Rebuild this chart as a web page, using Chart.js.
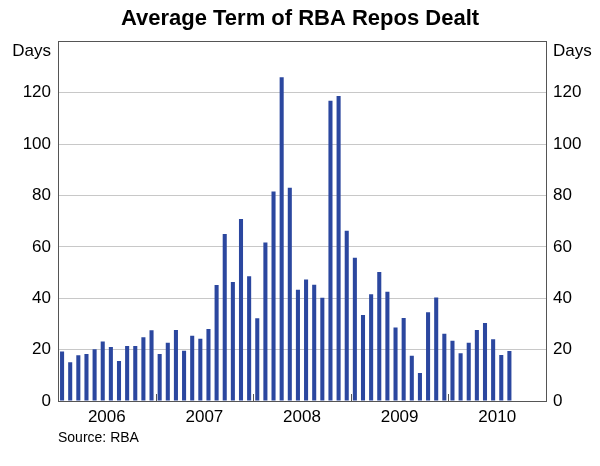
<!DOCTYPE html>
<html><head><meta charset="utf-8">
<script src="https://cdn.jsdelivr.net/npm/chart.js@4/dist/chart.umd.min.js"></script>
<style>html,body{margin:0;padding:0;background:#fff}#wrap{width:600px;height:466px;position:relative}</style>
</head><body><div id="wrap"><canvas id="c" width="600" height="466"></canvas></div>
<script>
const chartTitle = 'Average Term of RBA Repos Dealt';
const unitLabel = 'Days';
const sourceNote = 'Source: RBA';
const years = [2006, 2007, 2008, 2009, 2010];
const monthNames = ['Jan','Feb','Mar','Apr','May','Jun','Jul','Aug','Sep','Oct','Nov','Dec'];
// Average term (days), monthly from Jan 2006 to Aug 2010
const termDays = [
  19.3, 15.1, 17.8, 18.3, 20.1, 23.2, 21.0, 15.6, 21.4, 21.4, 24.8, 27.5,
  18.3, 22.7, 27.6, 19.6, 25.4, 24.2, 28.0, 45.2, 65.0, 46.3, 70.9, 48.6,
  32.2, 61.7, 81.6, 126.0, 83.0, 43.3, 47.3, 45.3, 40.2, 116.9, 118.7, 66.3,
  55.8, 33.5, 41.6, 50.2, 42.5, 28.6, 32.3, 17.6, 10.9, 34.6, 40.3, 26.2,
  23.5, 18.6, 22.7, 27.6, 30.4, 24.0, 17.9, 19.5
];
const yMax = 140;
const yStep = 20;

const months = years.flatMap(y => monthNames.map(m => m + ' ' + y)).slice(0, termDays.length);
const points = months.map((label, i) => ({ x: years[0] + (i + 0.5) / 12, y: termDays[i] }));

const FONT = '"Liberation Sans", Arial, sans-serif';
const AXIS = '#555555';

const extras = {
  id: 'extras',
  afterDraw(chart) {
    const { ctx, chartArea, scales } = chart;
    const x = scales.x, y = scales.y, y2 = scales.y2;
    ctx.save();
    ctx.strokeStyle = AXIS; ctx.lineWidth = 1;
    years.slice(1).forEach(yr => {
      const px = Math.round(x.getPixelForValue(yr)) + 0.5;
      ctx.beginPath(); ctx.moveTo(px, chartArea.bottom); ctx.lineTo(px, chartArea.bottom - 7); ctx.stroke();
    });
    ctx.fillStyle = '#000';
    ctx.font = '17px ' + FONT;
    ctx.textBaseline = 'middle';
    ctx.textAlign = 'right';
    ctx.fillText(unitLabel, y.right - 7, chartArea.top + 10);
    ctx.textAlign = 'left';
    ctx.fillText(unitLabel, y2.left + 7, chartArea.top + 10);
    ctx.font = '14px ' + FONT;
    ctx.fillText(sourceNote, chartArea.left, chart.height - 28);
    ctx.restore();
  }
};

const yTickCb = v => (v === yMax ? '' : v);

new Chart(document.getElementById('c'), {
  type: 'bar',
  data: {
    datasets: [{
      label: 'Average term',
      data: points,
      backgroundColor: '#2b479f',
      borderWidth: 0,
      barPercentage: 0.5,
      categoryPercentage: 1.0
    }]
  },
  options: {
    responsive: false,
    animation: false,
    devicePixelRatio: 1,
    layout: { padding: 0 },
    plugins: {
      legend: { display: false },
      tooltip: { enabled: false },
      title: {
        display: true, text: chartTitle, color: '#000',
        font: { family: FONT, size: 22, weight: 'bold' },
        padding: { top: 6, bottom: 9 }
      }
    },
    scales: {
      x: {
        type: 'linear', min: years[0], max: years[years.length - 1] + 1, offset: false,
        grid: { display: false, drawTicks: false, offset: false },
        border: { display: true, color: AXIS, width: 1 },
        ticks: {
          stepSize: 0.5, autoSkip: false, maxRotation: 0, padding: 6,
          color: '#000', font: { family: FONT, size: 17 },
          callback: v => (Math.abs(v % 1 - 0.5) < 1e-6 ? String(Math.floor(v)) : '')
        },
        afterFit: s => { s.height = 65; }
      },
      y: {
        position: 'left', min: 0, max: yMax,
        grid: {
          drawTicks: false, lineWidth: 1,
          color: c => (c.tick && (c.tick.value === yMax || c.tick.value === 0) ? AXIS : '#c8c8c8')
        },
        border: { display: true, color: AXIS, width: 1 },
        ticks: { stepSize: yStep, padding: 7, color: '#000', font: { family: FONT, size: 17 }, callback: yTickCb },
        afterFit: s => { s.width = 58; }
      },
      y2: {
        position: 'right', min: 0, max: yMax, display: true,
        grid: { display: false, drawTicks: false },
        border: { display: true, color: AXIS, width: 1 },
        ticks: { stepSize: yStep, padding: 7, color: '#000', font: { family: FONT, size: 17 }, callback: yTickCb },
        afterFit: s => { s.width = 54; }
      }
    }
  },
  plugins: [extras]
});
</script>
</body></html>
